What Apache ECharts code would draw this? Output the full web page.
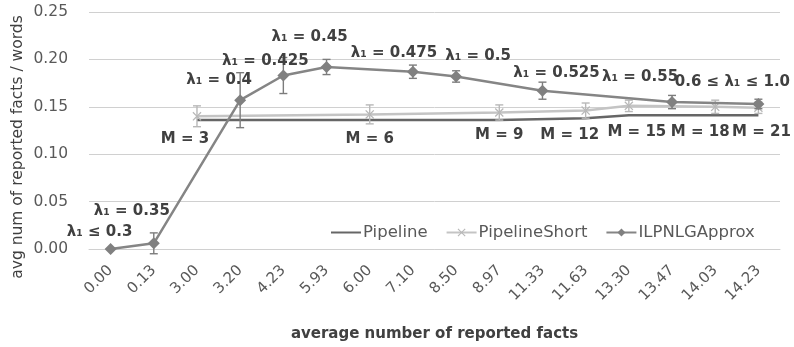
<!DOCTYPE html>
<html><head><meta charset="utf-8">
<script src="https://cdn.jsdelivr.net/npm/echarts@6/dist/echarts.min.js"></script>
<style>html,body{margin:0;padding:0;background:#fff}#c{width:794px;height:347px}</style>
</head><body><div id="c"></div>
<script>
const categories = ['0.00','0.13','3.00','3.20','4.23','5.93','6.00','7.10','8.50','8.97','11.33','11.63','13.30','13.47','14.03','14.23'];
const yTicks = [0, 0.05, 0.10, 0.15, 0.20, 0.25];
const pipeline      = [null,null,0.136,null,null,null,0.136,null,null,0.136,null,0.138,0.141,null,0.141,0.141];
const pipelineShort = [null,null,0.140,null,null,null,0.142,null,null,0.144,null,0.146,0.151,null,0.150,0.149];
const pipelineShortErr = [null,null,0.011,null,null,null,0.010,null,null,0.008,null,0.008,0.006,null,0.007,0.006];
const ilp    = [0.000,0.006,null,0.157,0.183,0.192,null,0.187,0.182,null,0.167,null,null,0.155,null,0.153];
const ilpErr = [null,0.011,null,0.029,0.019,0.008,null,0.007,0.006,null,0.009,null,null,0.007,null,0.005];
const ilpLabels = ['λ₁ ≤ 0.3','λ₁ = 0.35',null,'λ₁ = 0.4','λ₁ = 0.425','λ₁ = 0.45',null,'λ₁ = 0.475','λ₁ = 0.5',null,'λ₁ = 0.525',null,null,'λ₁ = 0.55',null,'0.6 ≤ λ₁ ≤ 1.0'];
const mLabels = [null,null,'M = 3',null,null,null,'M = 6',null,null,'M = 9',null,'M = 12','M = 15',null,'M = 18','M = 21'];

// label placement (style, not data)
const ilpLabelOffsets = [[-11,-17],[-22,-32],null,[-21,-20],[-18,-14],[-17,-30],null,[-19,-19],[22,-20],null,[14,-18],null,null,[-32,-25],null,[-26,-22]];
const mLabelOffsets = [null,null,[-12,23],null,null,null,[0,25],null,null,[0,23],null,[-16,25],[8,26],null,[-15,25],[3,24]];

const FONT = 'DejaVu Sans';
const labelStyle = {fontFamily: FONT, fontSize: 15, fontWeight: 'bold', color: '#404040'};

function withLabels(vals, labels, offsets) {
  return vals.map((v, i) => {
    if (v == null) return null;
    if (!labels[i]) return v;
    return {value: v, label: Object.assign({show: true, position: 'inside', align: 'center', verticalAlign: 'middle',
      formatter: labels[i], offset: offsets[i]}, labelStyle)};
  });
}

function errSeries(vals, errs, color, z) {
  const data = [];
  vals.forEach((v, i) => { if (v != null && errs[i]) data.push([i, v - errs[i], v + errs[i]]); });
  return {
    type: 'custom', silent: true, z: z,
    encode: {x: 0, y: [1, 2]},
    data: data,
    renderItem: function (params, api) {
      const lo = api.coord([api.value(0), api.value(1)]);
      const hi = api.coord([api.value(0), api.value(2)]);
      const cw = 4;
      const st = {stroke: color, lineWidth: 1.4};
      return {type: 'group', children: [
        {type: 'line', shape: {x1: lo[0], y1: lo[1], x2: hi[0], y2: hi[1]}, style: st},
        {type: 'line', shape: {x1: lo[0]-cw, y1: lo[1], x2: lo[0]+cw, y2: lo[1]}, style: st},
        {type: 'line', shape: {x1: hi[0]-cw, y1: hi[1], x2: hi[0]+cw, y2: hi[1]}, style: st}
      ]};
    }
  };
}

const xSymbol = 'path://M0,1L1,0L5,4L9,0L10,1L6,5L10,9L9,10L5,6L1,10L0,9L4,5Z';

const chart = echarts.init(document.getElementById('c'), null, {renderer: 'canvas'});
chart.setOption({
  animation: false,
  textStyle: {fontFamily: FONT},
  grid: {left: 89, right: 14, top: 12, bottom: 98, containLabel: false},
  xAxis: {
    type: 'category', data: categories, boundaryGap: true,
    axisLine: {show: true, lineStyle: {color: '#d0d0d0', width: 1}},
    axisTick: {show: false},
    axisLabel: {rotate: 45, margin: 19, fontSize: 15, color: '#595959', fontFamily: FONT},
    name: 'average number of reported facts', nameLocation: 'middle', nameGap: 78,
    nameTextStyle: {fontSize: 15, fontWeight: 'bold', color: '#404040', fontFamily: FONT}
  },
  yAxis: {
    type: 'value', min: 0, max: 0.25, interval: 0.05,
    axisLine: {show: false}, axisTick: {show: false},
    splitLine: {lineStyle: {color: '#d0d0d0', width: 1}},
    axisLabel: {fontSize: 15.5, color: '#595959', margin: 21, fontFamily: FONT,
      formatter: v => v.toFixed(2)}
  },
  legend: {
    left: 325, top: 219, itemWidth: 30, itemHeight: 10, itemGap: 18,
    textStyle: {fontSize: 16.5, color: '#595959', fontFamily: FONT, padding: [0, 0, 0, -3]},
    data: [{name: 'Pipeline', itemStyle: {opacity: 0}}, 'PipelineShort', 'ILPNLGApprox']
  },
  graphic: [{
    type: 'text', x: 18, y: 147, rotation: Math.PI / 2,
    style: {text: 'avg num of reported facts / words', fontFamily: FONT, fontSize: 15.5, fontWeight: 'normal',
      fill: '#404040', align: 'center', verticalAlign: 'middle'}
  }],
  series: [
    {name: 'Pipeline', type: 'line', data: pipeline, connectNulls: true, symbol: 'none', z: 3,
     lineStyle: {color: '#666666', width: 2.5}, itemStyle: {color: '#666666'}},
    errSeries(pipelineShort, pipelineShortErr, '#b8b8b8', 4),
    {name: 'PipelineShort', type: 'line', data: withLabels(pipelineShort, mLabels, mLabelOffsets), connectNulls: true,
     symbol: xSymbol, symbolSize: 9, z: 4, showAllSymbol: true,
     lineStyle: {color: '#c4c4c4', width: 2.5}, itemStyle: {color: '#b8b8b8'}},
    errSeries(ilp, ilpErr, '#7c7c7c', 5),
    {name: 'ILPNLGApprox', type: 'line', data: withLabels(ilp, ilpLabels, ilpLabelOffsets), connectNulls: true,
     symbol: 'diamond', symbolSize: 12, z: 6, showAllSymbol: true,
     lineStyle: {color: '#858585', width: 2.5}, itemStyle: {color: '#808080'}}
  ]
});
</script></body></html>
